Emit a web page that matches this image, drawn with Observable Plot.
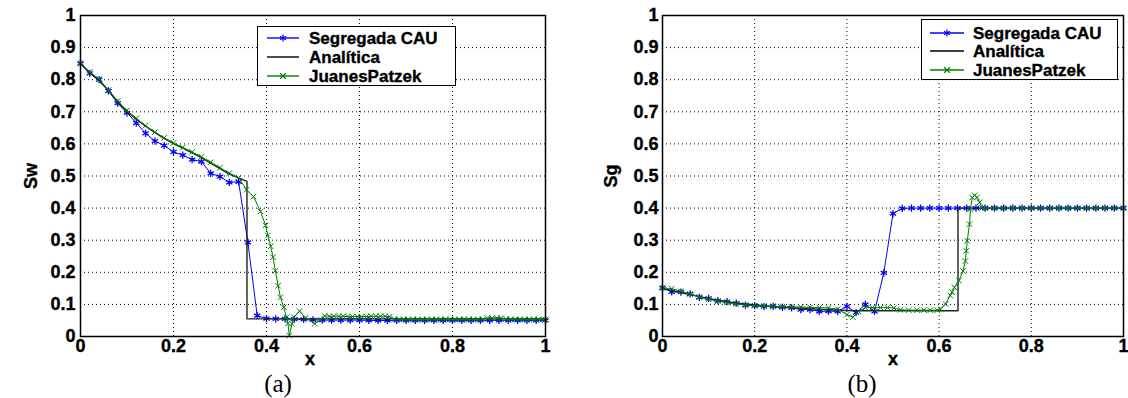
<!DOCTYPE html>
<html><head><meta charset="utf-8">
<script src="https://cdn.jsdelivr.net/npm/d3@7"></script>
<script src="https://cdn.jsdelivr.net/npm/@observablehq/plot@0.6"></script>
<style>
body{margin:0;background:#fff;}
#wrap{position:relative;width:1128px;height:398px;overflow:hidden;font-family:"Liberation Sans",Arial,sans-serif;color:#000;}
.panel{position:absolute;top:0;}
.panel text{font-size:18px;font-weight:bold;stroke:#000;stroke-width:0.35px;}
.legend text{stroke:#000;stroke-width:0.35px;}
.lbl{position:absolute;font-weight:bold;font-size:18px;line-height:1;white-space:nowrap;-webkit-text-stroke:0.35px #000;}
.cap{position:absolute;font-family:"Liberation Serif","Times New Roman",serif;font-size:25px;line-height:1;}
.legend{position:absolute;background:#fff;border:1.5px solid #000;box-sizing:border-box;}
.legend svg{position:absolute;left:0;top:0;}
</style></head>
<body><div id="wrap"></div>
<script>
// ---------- ticks ----------
const xTicks = [0, 0.2, 0.4, 0.6, 0.8, 1];
const xTickLabels = ["0", "0.2", "0.4", "0.6", "0.8", "1"];
const yTicks = [0, 0.1, 0.2, 0.3, 0.4, 0.5, 0.6, 0.7, 0.8, 0.9, 1];
const yTickLabels = ["0", "0.1", "0.2", "0.3", "0.4", "0.5", "0.6", "0.7", "0.8", "0.9", "1"];
const seriesNames = ["Segregada CAU", "Analítica", "JuanesPatzek"];

// ---------- panel (a): Sw ----------
const segAx = [0,0.02,0.04,0.06,0.08,0.10,0.12,0.14,0.16,0.18,0.20,0.22,0.24,0.26,0.28,0.30,0.32,0.34,0.36,0.38,0.40,0.42,0.44,0.46,0.48,0.50,0.52,0.54,0.56,0.58,0.60,0.62,0.64,0.66,0.68,0.70,0.72,0.74,0.76,0.78,0.80,0.82,0.84,0.86,0.88,0.90,0.92,0.94,0.96,0.98,1.00];
const segAy = [0.850,0.820,0.800,0.765,0.727,0.697,0.665,0.633,0.609,0.595,0.575,0.565,0.551,0.545,0.508,0.498,0.480,0.482,0.293,0.065,0.056,0.055,0.055,0.054,0.053,0.052,0.051,0.051,0.051,0.051,0.051,0.050,0.050,0.050,0.050,0.050,0.050,0.050,0.050,0.050,0.050,0.050,0.050,0.050,0.050,0.050,0.050,0.050,0.050,0.050,0.050];
const anaAx = [0,0.02,0.04,0.06,0.08,0.10,0.12,0.14,0.16,0.18,0.20,0.22,0.24,0.26,0.28,0.30,0.32,0.34,0.358,0.358,1.0];
const anaAy = [0.850,0.822,0.797,0.766,0.730,0.700,0.677,0.655,0.635,0.617,0.601,0.587,0.572,0.557,0.540,0.523,0.506,0.494,0.483,0.055,0.055];
const juaAx = [0,0.02,0.04,0.06,0.08,0.10,0.12,0.14,0.16,0.18,0.20,0.22,0.24,0.26,0.28,0.30,0.32,0.34,0.357,0.372,0.387,0.398,0.403,0.409,0.414,0.419,0.425,0.430,0.437,0.443,0.446,0.449,0.455,0.459,0.471,0.484,0.504,0.516,0.525,0.535,0.545,0.555,0.565,0.575,0.585,0.595,0.605,0.615,0.625,0.635,0.645,0.655,0.665,0.675,0.685,0.695,0.705,0.715,0.725,0.735,0.745,0.755,0.765,0.775,0.785,0.795,0.805,0.815,0.825,0.835,0.845,0.855,0.865,0.875,0.885,0.895,0.905,0.915,0.925,0.935,0.945,0.955,0.965,0.975,0.985,0.995,1.0];
const juaAy = [0.852,0.824,0.802,0.768,0.734,0.704,0.680,0.657,0.637,0.619,0.603,0.589,0.575,0.560,0.543,0.526,0.509,0.495,0.457,0.436,0.390,0.346,0.315,0.281,0.247,0.205,0.158,0.122,0.091,0.060,0.041,0.003,0.040,0.060,0.079,0.058,0.040,0.052,0.064,0.063,0.063,0.063,0.063,0.062,0.062,0.062,0.062,0.062,0.063,0.063,0.063,0.063,0.062,0.054,0.053,0.053,0.053,0.053,0.053,0.053,0.053,0.053,0.053,0.053,0.053,0.053,0.053,0.053,0.053,0.053,0.053,0.053,0.054,0.057,0.058,0.058,0.057,0.054,0.053,0.053,0.053,0.053,0.053,0.053,0.053,0.053,0.053];

// ---------- panel (b): Sg ----------
const segBx = segAx;
const segBy = [0.151,0.139,0.138,0.133,0.122,0.119,0.112,0.109,0.104,0.098,0.096,0.093,0.094,0.091,0.089,0.084,0.084,0.078,0.079,0.078,0.094,0.074,0.100,0.078,0.198,0.383,0.399,0.400,0.400,0.400,0.400,0.400,0.400,0.400,0.400,0.400,0.400,0.400,0.400,0.400,0.400,0.400,0.400,0.400,0.400,0.400,0.400,0.400,0.400,0.400,0.400];
const anaBx = [0,0.05,0.10,0.15,0.20,0.25,0.30,0.35,0.40,0.42,0.641,0.641,1.0];
const anaBy = [0.150,0.134,0.118,0.106,0.098,0.092,0.088,0.084,0.081,0.080,0.080,0.400,0.400];
const juaBx = [0,0.02,0.04,0.06,0.08,0.10,0.12,0.14,0.16,0.18,0.20,0.22,0.24,0.26,0.28,0.30,0.32,0.34,0.36,0.38,0.40,0.413,0.425,0.44,0.455,0.473,0.488,0.502,0.516,0.534,0.552,0.567,0.581,0.596,0.603,0.614,0.624,0.628,0.633,0.643,0.652,0.657,0.659,0.661,0.666,0.668,0.672,0.677,0.682,0.688,0.693,0.70,0.72,0.74,0.76,0.78,0.80,0.82,0.84,0.86,0.88,0.90,0.92,0.94,0.96,0.98,1.0];
const juaBy = [0.152,0.149,0.141,0.132,0.123,0.116,0.110,0.105,0.101,0.098,0.096,0.095,0.094,0.093,0.092,0.092,0.091,0.090,0.089,0.085,0.068,0.060,0.078,0.090,0.090,0.090,0.090,0.089,0.083,0.082,0.082,0.082,0.082,0.082,0.085,0.101,0.128,0.138,0.153,0.174,0.204,0.235,0.267,0.298,0.350,0.397,0.433,0.440,0.433,0.418,0.400,0.400,0.400,0.400,0.400,0.400,0.400,0.400,0.400,0.400,0.400,0.400,0.400,0.400,0.400,0.400,0.400];

const BLUE = "#0000ff", GREEN = "#008000", BLACK = "#000000";
const FONT = "Liberation Sans, Arial, sans-serif";

function pts(xs, ys) { return xs.map((x, i) => ({x, y: ys[i]})); }

function panel(o) {
  const seg = pts(o.segX, o.segY), ana = pts(o.anaX, o.anaY), jua = pts(o.juaX, o.juaY);
  return Plot.plot({
    width: 564, height: 398,
    marginLeft: o.ml, marginRight: o.mr, marginTop: 15, marginBottom: 62,
    x: {domain: [0, 1]},
    y: {domain: [0, 1]},
    style: {fontFamily: FONT, fontSize: "18px", fontWeight: "bold", color: "#000", background: "transparent", overflow: "visible"},
    marks: [
      Plot.gridX(xTicks.slice(1, -1), {stroke: BLACK, strokeOpacity: 1, strokeWidth: 1, strokeDasharray: "1,3"}),
      Plot.gridY(yTicks.slice(1, -1), {stroke: BLACK, strokeOpacity: 1, strokeWidth: 1, strokeDasharray: "1,3"}),
      Plot.line(seg, {x: "x", y: "y", stroke: BLUE, strokeWidth: 1}),
      Plot.dot(seg, {x: "x", y: "y", stroke: BLUE, symbol: "asterisk", r: 3.4, strokeWidth: 1.3}),
      Plot.line(ana, {x: "x", y: "y", stroke: "#222", strokeWidth: 1.4}),
      Plot.line(jua, {x: "x", y: "y", stroke: GREEN, strokeWidth: 1}),
      Plot.dot(jua, {x: "x", y: "y", stroke: GREEN, symbol: "times", r: 2.6, strokeWidth: 1}),
      Plot.frame({stroke: BLACK, strokeWidth: 1.5}),
      Plot.axisX(xTicks, {tickSize: 0, tickPadding: 3, label: null, fontSize: 18, fontWeight: "bold",
        tickFormat: d => xTickLabels[xTicks.indexOf(d)]}),
      Plot.axisY(yTicks, {tickSize: 0, tickPadding: o.tp, label: null, fontSize: 18, fontWeight: "bold",
        tickFormat: d => yTickLabels[yTicks.indexOf(d)]})
    ]
  });
}

const wrap = document.getElementById("wrap");
function place(el, left) { el.classList.add("panel"); el.style.left = left + "px"; wrap.appendChild(el); }

place(panel({segX: segAx, segY: segAy, anaX: anaAx, anaY: anaAy, juaX: juaAx, juaY: juaAy, ml: 80, mr: 19, tp: 5}), 0);
place(panel({segX: segBx, segY: segBy, anaX: anaBx, anaY: anaBy, juaX: juaBx, juaY: juaBy, ml: 98, mr: 5, tp: 4}), 564);

function label(text, x, y, cls, rotate) {
  const d = document.createElement("div");
  d.className = cls; d.textContent = text;
  d.style.left = x + "px"; d.style.top = y + "px";
  d.style.transform = "translate(-50%,-50%)" + (rotate ? " rotate(-90deg)" : "");
  wrap.appendChild(d);
}
label("x", 310, 359, "lbl");
label("x", 893, 359, "lbl");
label("Sw", 31, 176, "lbl", true);
label("Sg", 611, 176, "lbl", true);
label("(a)", 278, 383, "cap");
label("(b)", 862, 383, "cap");

function legend(left, top, w, h, rows, sx0, sx1, tx) {
  const d = document.createElement("div");
  d.className = "legend";
  Object.assign(d.style, {left: left + "px", top: top + "px", width: w + "px", height: h + "px"});
  const svg = d3.create("svg").attr("width", w).attr("height", h);
  const colors = [BLUE, BLACK, GREEN];
  const syms = [d3.symbolAsterisk, null, d3.symbolTimes];
  seriesNames.forEach((name, i) => {
    const y = rows[i];
    svg.append("line").attr("x1", sx0).attr("x2", sx1).attr("y1", y).attr("y2", y)
      .attr("stroke", colors[i]).attr("stroke-width", 1.4);
    if (syms[i]) svg.append("path").attr("d", d3.symbol(syms[i], i === 0 ? 32 : 22)())
      .attr("transform", `translate(${(sx0 + sx1) / 2},${y})`).attr("fill", "none")
      .attr("stroke", colors[i]).attr("stroke-width", 1.2);
    svg.append("text").attr("x", tx).attr("y", y).attr("dy", "0.36em")
      .attr("font-family", FONT).attr("font-weight", "bold").attr("font-size", 17).text(name);
  });
  d.appendChild(svg.node());
  wrap.appendChild(d);
}
legend(257, 26, 199, 60, [11, 30, 49], 9, 41, 51);
legend(921, 19, 197, 61, [13, 31, 50], 8, 42, 51);
</script></body></html>
